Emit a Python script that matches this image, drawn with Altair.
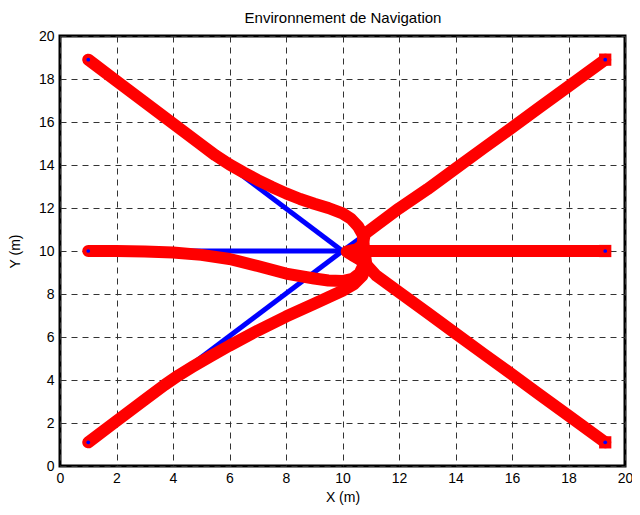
import altair as alt
import pandas as pd

chart_title = "Environnement de Navigation"

# Start / goal points (m)
start_x = [1.0, 1.0, 1.0]
start_y = [18.9, 10.0, 1.1]
goal_x = [19.3, 19.3, 19.3]
goal_y = [1.1, 10.0, 18.9]
center_x = 10.0
center_y = 10.0

# Red trajectories
t1_x = [1.0, 2.0, 3.0, 4.0, 5.0, 5.5, 6.0, 6.5, 7.0, 7.5, 8.0, 8.5, 9.0, 9.5, 10.0, 10.3, 10.55, 10.72, 10.75, 10.5, 10.15, 10.35, 10.75, 11.2, 12.0, 13.0, 14.0, 15.0, 16.0, 17.0, 18.0, 19.3]
t1_y = [18.9, 17.91, 16.92, 15.93, 14.94, 14.45, 14.02, 13.65, 13.3, 12.98, 12.68, 12.42, 12.2, 12.0, 11.75, 11.5, 11.15, 10.75, 10.3, 10.08, 9.97, 9.8, 9.5, 8.85, 8.09, 7.13, 6.17, 5.21, 4.26, 3.3, 2.34, 1.1]

t2_x = [1.0, 2.0, 3.0, 4.0, 5.0, 6.0, 7.0, 8.0, 9.0, 9.5, 10.0, 10.35, 10.6, 10.75, 10.75, 10.9, 11.5, 13.0, 15.0, 17.0, 19.3]
t2_y = [10.0, 10.0, 9.98, 9.93, 9.82, 9.63, 9.3, 8.95, 8.72, 8.63, 8.6, 8.7, 8.95, 9.35, 9.75, 10.0, 10.0, 10.0, 10.0, 10.0, 10.0]

t3_x = [1.0, 2.0, 3.0, 3.7, 4.2, 4.7, 5.3, 6.0, 7.0, 8.0, 9.0, 9.5, 10.0, 10.4, 10.7, 10.85, 10.8, 10.7, 10.8, 11.2, 12.0, 13.0, 14.0, 15.0, 16.0, 17.0, 18.0, 19.3]
t3_y = [1.1, 2.09, 3.08, 3.77, 4.22, 4.62, 5.08, 5.6, 6.3, 6.95, 7.55, 7.85, 8.15, 8.45, 8.85, 9.3, 9.8, 10.3, 10.8, 11.2, 11.98, 12.87, 13.83, 14.79, 15.74, 16.7, 17.66, 18.9]

ticks = list(range(0, 21, 2))

# ---- build tables ----
all_ex = start_x + goal_x
all_ey = start_y + goal_y
blue_rows = []
for i, (ex, ey) in enumerate(zip(all_ex, all_ey)):
    blue_rows.append({"seg": i, "o": 0, "x": ex, "y": ey})
    blue_rows.append({"seg": i, "o": 1, "x": center_x, "y": center_y})
blue_df = pd.DataFrame(blue_rows)

red_rows = []
for k, (xs, ys) in enumerate([(t1_x, t1_y), (t2_x, t2_y), (t3_x, t3_y)]):
    for j, (xx, yy) in enumerate(zip(xs, ys)):
        red_rows.append({"traj": k, "o": j, "x": xx, "y": yy})
red_df = pd.DataFrame(red_rows)

goal_df = pd.DataFrame({"x": goal_x, "y": goal_y})
pts_df = pd.DataFrame({"x": all_ex, "y": all_ey})
title_df = pd.DataFrame({"t": [chart_title]})

xs = alt.Scale(domain=[0, 20], nice=False)
ys = alt.Scale(domain=[0, 20], nice=False)

xenc = alt.X("x:Q", scale=xs, title="X (m)",
             axis=alt.Axis(values=ticks, labelFlush=False))
yenc = alt.Y("y:Q", scale=ys, title="Y (m)",
             axis=alt.Axis(values=ticks, labelFlush=False))

blue = alt.Chart(blue_df).mark_line(color="#0000FF", strokeWidth=5).encode(
    x=xenc, y=yenc, detail="seg:N", order="o:Q")

red = alt.Chart(red_df).mark_line(color="#FF0000", strokeWidth=12,
                                  strokeCap="round", strokeJoin="round").encode(
    x="x:Q", y="y:Q", detail="traj:N", order="o:Q")

goals = alt.Chart(goal_df).mark_square(color="#FF0000", size=150, opacity=1).encode(
    x="x:Q", y="y:Q")

dots = alt.Chart(pts_df).mark_point(color="#0000FF", filled=True, size=14,
                                    opacity=1).encode(x="x:Q", y="y:Q")

title_txt = alt.Chart(title_df).mark_text(
    font="Liberation Sans", fontSize=15, color="black", align="center",
    baseline="middle").encode(
    text="t:N", x=alt.value(283), y=alt.value(-18))

chart = alt.layer(blue, red, goals, dots, title_txt).properties(
    width=565, height=430,
    autosize=alt.AutoSizeParams(type="none"),
    padding={"left": 52, "top": 28, "right": 7, "bottom": 41},
).configure_view(
    stroke="black", strokeWidth=3
).configure_axis(
    labelFont="Liberation Sans", labelFontSize=14, labelColor="black",
    titleFont="Liberation Sans", titleFontSize=14, titleFontWeight="normal",
    titleColor="black",
    grid=True, gridColor="#333333", gridDash=[6, 5], gridWidth=1, gridOpacity=1,
    domain=False, ticks=False, labelPadding=6,
).configure_axisX(titlePadding=5, labelPadding=5).configure_axisY(titlePadding=16)

chart.save("out.html", embed_options={"renderer": "svg", "actions": False})
